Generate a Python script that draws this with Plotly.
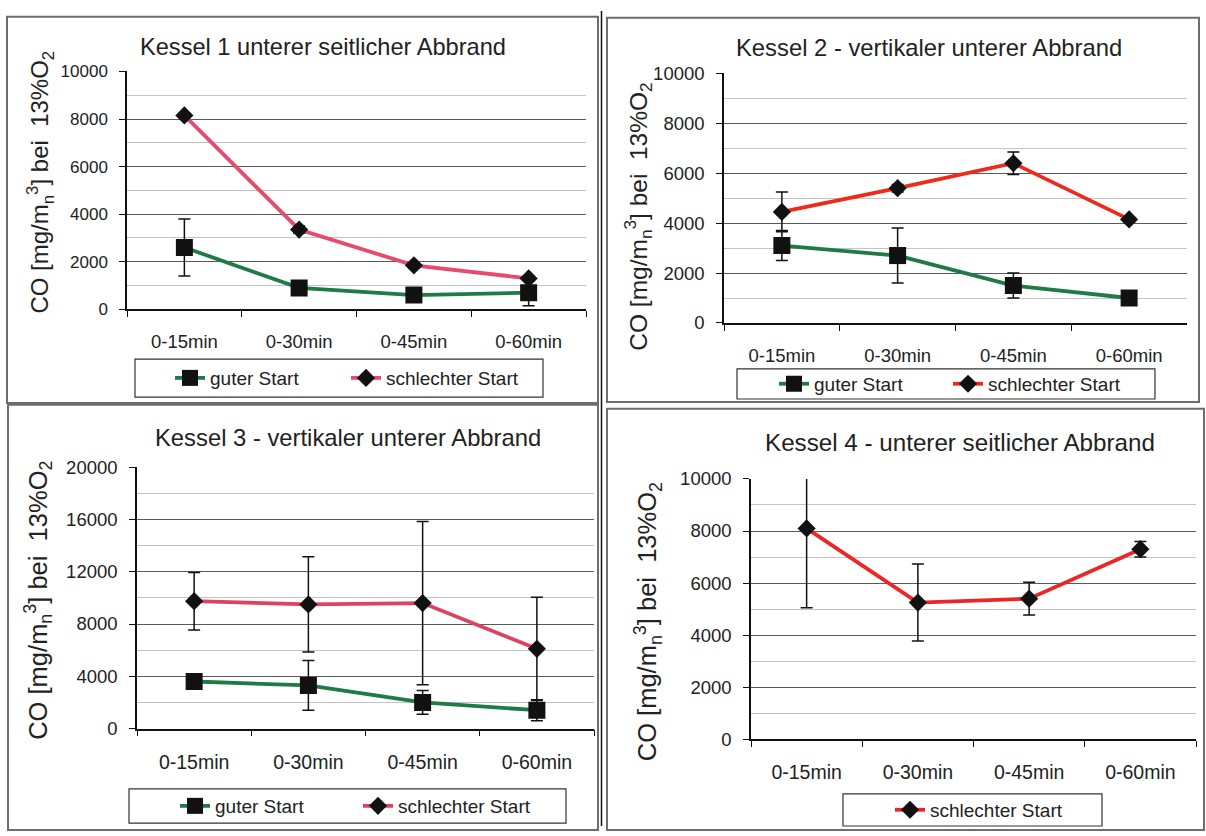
import plotly.graph_objects as go

# ---- data -------------------------------------------------------------
categories = ["0-15min", "0-30min", "0-45min", "0-60min"]

k1_gut = [2600, 900, 600, 700]
k1_gut_err = [1200, 200, 150, 550]
k1_schlecht = [8150, 3350, 1850, 1300]
k1_schlecht_err = [100, 150, 100, 100]

k2_gut = [3100, 2700, 1500, 1000]
k2_gut_err = [600, 1100, 500, 150]
k2_schlecht = [4450, 5400, 6400, 4150]
k2_schlecht_err = [800, 150, 450, 100]

k3_gut = [3600, 3300, 2000, 1400]
k3_gut_err = [350, 1900, 900, 800]
k3_schlecht = [9750, 9500, 9600, 6100]
k3_schlecht_err = [2200, 3650, 6250, 3950]

k4_schlecht = [8100, 5250, 5400, 7300]
k4_schlecht_err = [3050, 1480, 630, 300]

titles = [
    "Kessel 1 unterer seitlicher Abbrand",
    "Kessel 2 - vertikaler unterer Abbrand",
    "Kessel 3 - vertikaler unterer Abbrand",
    "Kessel 4 - unterer seitlicher Abbrand",
]
y_label = "CO [mg/m<sub>n</sub><sup>3</sup>] bei  13%O<sub>2</sub>"
series_names = ["guter Start", "schlechter Start"]

# ---- page geometry (pixels) -------------------------------------------
W, H = 1206, 836
FONT = "Arial, Liberation Sans, sans-serif"
GREEN = "#1f7a45"


def fx(x):
    return x / W


def fy(y):
    return 1 - y / H


panels = [
    dict(xd=(127, 586), yd=(62, 306), ymax=10000, major=2000, minor=1000, tf=17, cf=18.5,
         red="#e84a6c", title_xy=(323, 37), title_fs=23.6,
         ylab_xy=(40, 176), ylab_fs=24, leg=(135, 357, 543, 396), leg_mark=192,
         leg_step=176, leg_fs=19),
    dict(xd=(724, 1187), yd=(64, 320), ymax=10000, major=2000, minor=1000, tf=18.5, cf=18.5,
         red="#ee2a1a", title_xy=(929, 37), title_fs=23.8,
         ylab_xy=(638, 211), ylab_fs=24.5, leg=(737, 367, 1155, 398), leg_mark=796,
         leg_step=174, leg_fs=19),
    dict(xd=(137, 594), yd=(468, 736), ymax=20000, major=4000, minor=2000, tf=18.5, cf=19.5,
         red="#e04062", title_xy=(348, 437), title_fs=23.8,
         ylab_xy=(38, 605), ylab_fs=25.5, leg=(129, 798, 566, 833), leg_mark=197,
         leg_step=183, leg_fs=19),
    dict(xd=(751, 1196), yd=(480, 747), ymax=10000, major=2000, minor=1000, tf=18.5, cf=19.5,
         red="#ec2626", title_xy=(960, 443), title_fs=24.2,
         ylab_xy=(648, 627), ylab_fs=25.5, leg=(843, 803, 1102, 836), leg_mark=912,
         leg_step=0, leg_fs=19),
]

panel_series = [
    [(k1_gut, k1_gut_err), (k1_schlecht, k1_schlecht_err)],
    [(k2_gut, k2_gut_err), (k2_schlecht, k2_schlecht_err)],
    [(k3_gut, k3_gut_err), (k3_schlecht, k3_schlecht_err)],
    [(None, None), (k4_schlecht, k4_schlecht_err)],
]

fig = go.Figure()
layout = dict(
    width=W, height=H, margin=dict(l=0, r=0, t=0, b=0),
    paper_bgcolor="white", plot_bgcolor="white",
    font=dict(family=FONT, color="#222222"),
    showlegend=True,
)
annotations = []
shapes = []

for i, (p, series) in enumerate(zip(panels, panel_series)):
    n = i + 1
    xa = "x" if n == 1 else f"x{n}"
    ya = "y" if n == 1 else f"y{n}"
    leg_id = "legend" if n == 1 else f"legend{n}"

    for (vals, errs), name, kind in zip(series, series_names, ["gut", "schlecht"]):
        if vals is None:
            continue
        color = GREEN if kind == "gut" else p["red"]
        fig.add_trace(go.Scatter(
            x=categories, y=vals, name=name, xaxis=xa, yaxis=ya, legend=leg_id,
            mode="lines+markers",
            line=dict(color=color, width=3.8),
            marker=dict(symbol="square" if kind == "gut" else "diamond",
                        size=17 if kind == "gut" else 14,
                        color="#111111", line=dict(width=0)),
            error_y=dict(type="data", array=errs, visible=True,
                         color="#111111", thickness=1.5, width=6),
        ))

    axis_x = dict(
        domain=[fx(p["xd"][0]), fx(p["xd"][1])], anchor=ya,
        type="category", range=[-0.5, 3.5], tickson="boundaries",
        ticks="outside", ticklen=6, tickcolor="#111", tickwidth=1,
        showline=True, linecolor="#111", linewidth=1.5, showgrid=False,
        tickfont=dict(size=p["cf"], family=FONT, color="#222"),
        ticklabelstandoff=15, zeroline=False, fixedrange=True,
    )
    axis_y = dict(
        domain=[fy(p["yd"][1]), fy(p["yd"][0])], anchor=xa,
        range=[0, p["ymax"]], dtick=p["major"], tick0=0, tickformat="d",
        ticks="outside", ticklen=6, tickcolor="#111", tickwidth=1,
        showline=True, linecolor="#111", linewidth=1.5,
        showgrid=True, gridcolor="#5a5a5a", gridwidth=1,
        minor=dict(dtick=p["minor"], showgrid=True, gridcolor="#c4c4c4",
                   gridwidth=1, ticks=""),
        tickfont=dict(size=p["tf"], family=FONT, color="#222"),
        ticklabelstandoff=8, zeroline=False, fixedrange=True,
    )
    layout["xaxis" if n == 1 else f"xaxis{n}"] = axis_x
    layout["yaxis" if n == 1 else f"yaxis{n}"] = axis_y

    lx0, ly0, lx1, ly1 = p["leg"]
    layout[leg_id] = dict(
        orientation="h", x=fx(p["leg_mark"] - 22), y=fy((ly0 + ly1) / 2),
        xanchor="left", yanchor="middle",
        font=dict(size=p["leg_fs"], family=FONT, color="#222"),
        bgcolor="rgba(0,0,0,0)", borderwidth=0,
        entrywidth=max(p["leg_step"] - 45, 0),
    )
    shapes.append(dict(type="rect", xref="paper", yref="paper",
                       x0=fx(lx0), x1=fx(lx1), y0=fy(ly1), y1=fy(ly0),
                       line=dict(color="#333", width=1.2), layer="below"))

    annotations.append(dict(
        text=titles[i], x=fx(p["title_xy"][0]), y=fy(p["title_xy"][1]),
        xref="paper", yref="paper", showarrow=False,
        xanchor="center", yanchor="middle",
        font=dict(size=p["title_fs"], family=FONT, color="#222"),
    ))
    annotations.append(dict(
        text=y_label, x=fx(p["ylab_xy"][0]), y=fy(p["ylab_xy"][1]),
        xref="paper", yref="paper", showarrow=False, textangle=-90,
        xanchor="center", yanchor="middle",
        font=dict(size=p["ylab_fs"], family=FONT, color="#222"),
    ))

# panel frames
frames = [(7, 6, 598, 402), (607, 7, 1199, 401), (8, 404, 598, 840), (607, 408, 1204, 840)]
for x0, y0, x1, y1 in frames:
    shapes.append(dict(type="rect", xref="paper", yref="paper",
                       x0=fx(x0), x1=fx(x1), y0=fy(y1), y1=fy(y0),
                       line=dict(color="#6e6e6e", width=2), layer="below"))
shapes.append(dict(type="line", xref="paper", yref="paper",
                   x0=fx(601.5), x1=fx(601.5), y0=0, y1=1,
                   line=dict(color="#111", width=1.5)))

layout["annotations"] = annotations
layout["shapes"] = shapes
fig.update_layout(**layout)

fig.write_html("out.html")
